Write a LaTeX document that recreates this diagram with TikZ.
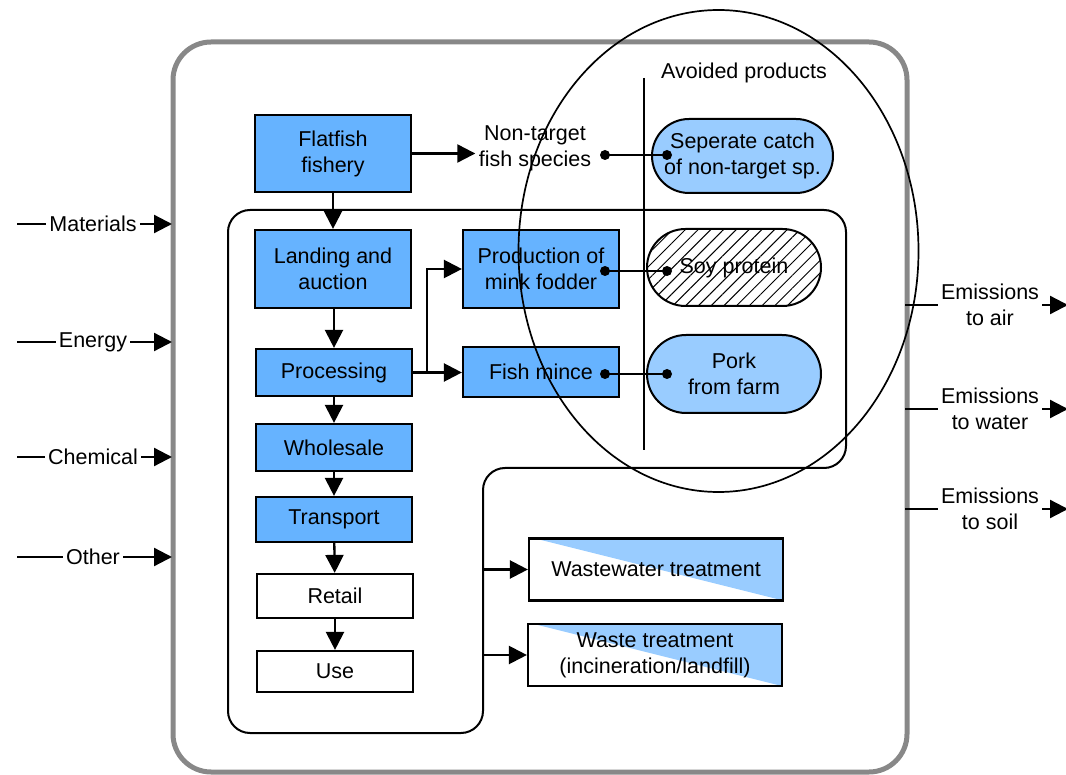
\documentclass[tikz,border=0pt]{standalone}
\usepackage{fontspec}
\setmainfont{Liberation Sans}
\usetikzlibrary{arrows.meta,shapes.misc,patterns.meta}
\definecolor{boxblue}{HTML}{66B3FF}
\definecolor{lightblue}{HTML}{99CCFF}
\definecolor{framegray}{HTML}{888888}
\begin{document}
\begin{tikzpicture}[x=1pt,y=-1pt,font=\fontsize{21.5}{26}\selectfont,
  arr/.style={line width=2.3pt,-{Triangle[length=18pt,width=18pt]}},
  ln/.style={line width=2.3pt},
  dotln/.style={line width=2.2pt},
  dot/.style={fill=black},
  proc/.style={draw,line width=2.2pt,fill=boxblue,minimum width=156pt,align=center,inner sep=0pt},
  wbox/.style={draw,line width=2.2pt,fill=white,minimum width=156pt,align=center,inner sep=0pt},
  treat/.style={draw,line width=2.2pt,minimum width=254pt,minimum height=62pt,align=center,inner sep=0pt,
    path picture={\fill[lightblue] ([xshift=6pt]path picture bounding box.north west) -- (path picture bounding box.north east) -- (path picture bounding box.south east) -- cycle;}},
  avoid/.style={rounded rectangle,draw,line width=2pt,align=center,inner sep=0pt},
  lbl/.style={inner sep=3pt,align=center}]
\useasboundingbox (0,0) rectangle (1066,775);
% outer system boundary
\draw[framegray,line width=5pt,rounded corners=38pt] (173,42) rectangle (907,772);
% inner container
\draw[line width=2pt,rounded corners=22pt] (228,470) -- (228,210) -- (846,210) -- (846,468) -- (483,468) -- (483,733) -- (228,733) -- cycle;
% vertical separator
\coordinate (v0) at (644,78);
\coordinate (v1) at (644,450);
\draw[line width=1.8pt] (v0) -- (v1);
\node (avp) at (744,73) {Avoided products};
% main chain
\node[proc,minimum height=77pt] (fish) at (333,153.5) {Flatfish\\fishery};
\node[proc,minimum height=78pt] (land) at (333,269) {Landing and\\auction};
\node[proc,minimum height=47pt] (procg) at (334,372.5) {Processing};
\node[proc,minimum height=47pt] (whole) at (334,447.5) {Wholesale};
\node[proc,minimum height=45pt] (trans) at (334,519.5) {Transport};
\node[wbox,minimum height=44pt] (retail) at (335,596) {Retail};
\node[wbox,minimum height=41pt] (use) at (335,671.5) {Use};
\draw[arr] (fish.south -| land.north) -- (land.north);
\draw[arr] (land.south -| procg.north) -- (procg.north);
\draw[arr] (procg) -- (whole);
\draw[arr] (whole) -- (trans);
\draw[arr] (trans) -- (retail);
\draw[arr] (retail) -- (use);
% by-products
\node[proc,minimum height=78pt] (mink) at (541,269) {Production of\\mink fodder};
\node[proc,minimum height=50pt] (mince) at (541,372) {Fish mince};
\coordinate (br) at (427,372.5);
\draw[arr] (procg.east) -- (procg.east -| mince.west);
\draw[arr] (br) |- (mink.west);
\node[align=center] (nt) at (535,148) {Non-target\\fish species};
\draw[arr] (fish.east) -- (fish.east -| nt.west);
% avoided products
\node[avoid,fill=lightblue,minimum width=181pt,minimum height=74pt] (sep) at (742.5,156) {Seperate catch\\of non-target sp.};
\node[avoid,pattern={Lines[angle=45,distance=9pt,line width=1pt]},minimum width=174pt,minimum height=77pt] (soy) at (734,267.5) {Soy protein};
\node[avoid,fill=lightblue,minimum width=174pt,minimum height=78pt] (pork) at (734,374) {Pork\\from farm};
% dot connectors
\coordinate (d1a) at (605,155); \coordinate (d1b) at (667,155);
\coordinate (d2a) at (605,271); \coordinate (d2b) at (667,271);
\coordinate (d3a) at (605,374); \coordinate (d3b) at (667,374);
\draw[dotln] (d1a) -- (d1b);
\draw[dotln] (d2a) -- (d2b);
\draw[dotln] (d3a) -- (d3b);
\foreach \d in {d1a,d1b,d2a,d2b,d3a,d3b} \fill[dot] (\d) circle (5pt);
% treatment
\node[treat] (ww) at (656,569.5) {Wastewater treatment};
\node[treat] (wt) at (655,655) {Waste treatment\\(incineration/landfill)};
\coordinate (wx) at (483,0);
\draw[arr] (ww.west -| wx) -- (ww.west);
\draw[arr] (wt.west -| wx) -- (wt.west);
% inputs
\foreach \n/\t/\y in {mat/Materials/224,ene/Energy/342,che/Chemical/457,oth/Other/557}{
  \node[lbl] (\n) at (93,\y) {\t};
  \coordinate (\n0) at (17,\y);
  \coordinate (\n1) at (172,\y);
  \draw[ln] (\n0) -- (\n);
  \draw[arr] (\n) -- (\n1);
}
% outputs
\foreach \n/\t/\y in {air/{Emissions\\to air}/305,wat/{Emissions\\to water}/409,soi/{Emissions\\to soil}/509}{
  \node[lbl] (\n) at (990,\y) {\t};
  \coordinate (\n0) at (905,\y);
  \coordinate (\n1) at (1068,\y);
  \draw[ln] (\n0) -- (\n);
  \draw[arr] (\n) -- (\n1);
}
% avoided-products ellipse
\draw[line width=1.7pt] (718.5,251) ellipse [x radius=200, y radius=241];
\end{tikzpicture}
\end{document}
